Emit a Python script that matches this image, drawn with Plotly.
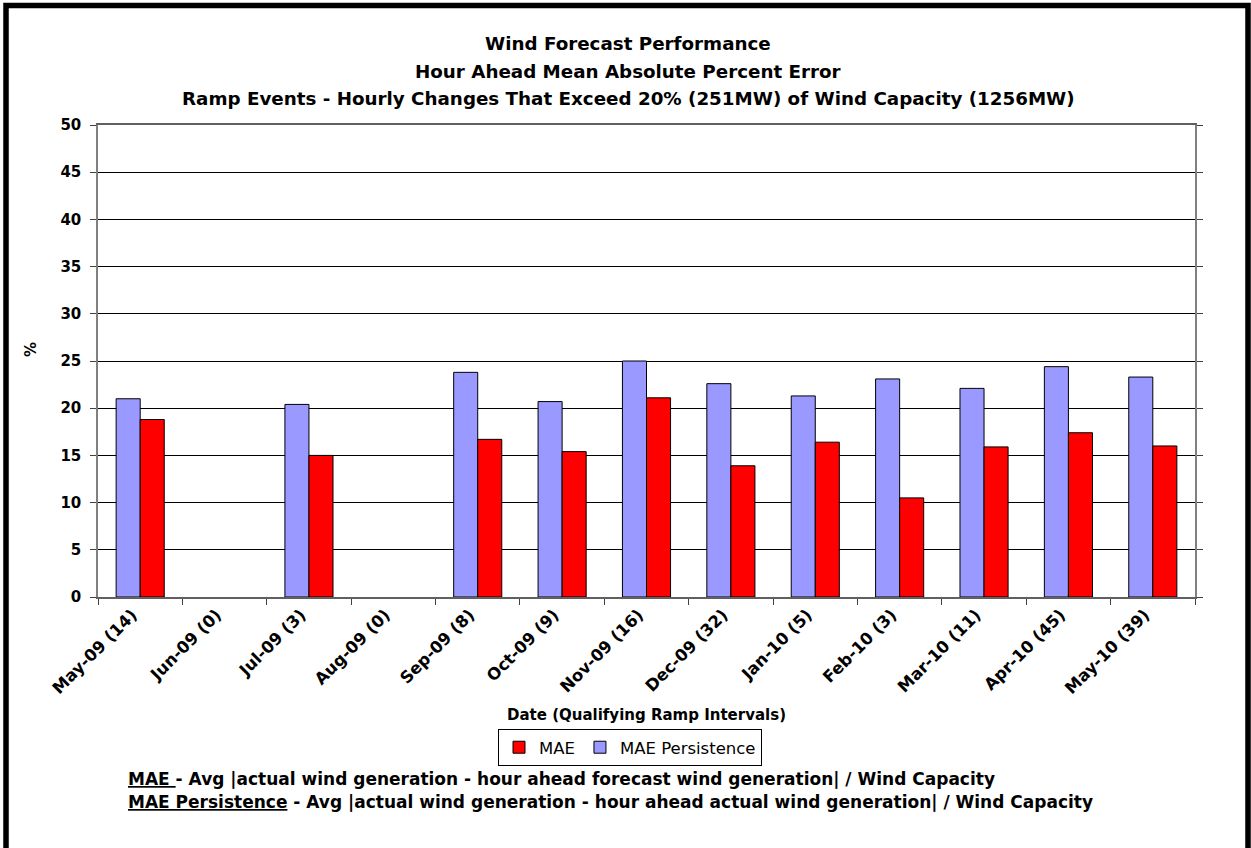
import plotly.graph_objects as go

categories = ["May-09 (14)", "Jun-09 (0)", "Jul-09 (3)", "Aug-09 (0)", "Sep-09 (8)",
              "Oct-09 (9)", "Nov-09 (16)", "Dec-09 (32)", "Jan-10 (5)", "Feb-10 (3)",
              "Mar-10 (11)", "Apr-10 (45)", "May-10 (39)"]
mae_persistence = [21.0, None, 20.4, None, 23.8, 20.7, 25.0, 22.6, 21.3, 23.1, 22.1, 24.4, 23.3]
mae = [18.8, None, 15.0, None, 16.7, 15.4, 21.1, 13.9, 16.4, 10.5, 15.9, 17.4, 16.0]
title_lines = ["Wind Forecast Performance",
               "Hour Ahead Mean Absolute Percent Error",
               "Ramp Events - Hourly Changes That Exceed 20% (251MW) of Wind Capacity (1256MW)"]

FONT = "DejaVu Sans, Liberation Sans, Arial, sans-serif"
W, H = 1251, 848
L, R, T, B = 98, 1195, 125, 597


def px_x(x):
    return (x - L) / (R - L)


def px_y(y):
    return (B - y) / (B - T)


fig = go.Figure()
fig.add_trace(go.Bar(x=categories, y=mae_persistence, name="MAE Persistence",
                     marker=dict(color="#9999FF", line=dict(color="#000000", width=1))))
fig.add_trace(go.Bar(x=categories, y=mae, name="MAE",
                     marker=dict(color="#FF0000", line=dict(color="#000000", width=1))))

annotations = []
for i, (line, yc) in enumerate(zip(title_lines, [44, 71, 98])):
    annotations.append(dict(text="<b>%s</b>" % line, xref="paper", yref="paper",
                            x=px_x(628), y=px_y(yc), xanchor="center", yanchor="middle",
                            showarrow=False, font=dict(size=18.3, family=FONT, color="black")))
annotations += [
    dict(text="<b>%</b>", xref="paper", yref="paper", x=px_x(31), y=px_y(350),
         xanchor="center", yanchor="middle",
         textangle=-90, showarrow=False, font=dict(size=15, family=FONT, color="black")),
    dict(text="<b>Date (Qualifying Ramp Intervals)</b>", xref="paper", yref="paper",
         x=px_x(646), y=px_y(715), xanchor="center", yanchor="middle", showarrow=False,
         font=dict(size=15, family=FONT, color="black")),
    dict(text="<b><u>MAE </u>- Avg |actual wind generation - hour ahead forecast wind generation| / Wind Capacity</b>",
         xref="paper", yref="paper", x=px_x(126), y=px_y(779), xanchor="left", yanchor="middle",
         showarrow=False, font=dict(size=17, family=FONT, color="black")),
    dict(text="<b><u>MAE Persistence</u> - Avg |actual wind generation - hour ahead actual wind generation| / Wind Capacity</b>",
         xref="paper", yref="paper", x=px_x(126), y=px_y(802), xanchor="left", yanchor="middle",
         showarrow=False, font=dict(size=17, family=FONT, color="black")),
]

fig.update_layout(
    width=W, height=H,
    margin=dict(l=L, r=W - R, t=T, b=H - B),
    paper_bgcolor="white", plot_bgcolor="white",
    barmode="group", bargap=0.43, bargroupgap=0,
    font=dict(family=FONT, color="black"),
    showlegend=True,
    legend=dict(
        orientation="h", traceorder="reversed",
        x=px_x(630), xanchor="center", y=px_y(729), yanchor="top",
        bordercolor="black", borderwidth=1, bgcolor="white",
        font=dict(size=16.5, family=FONT, color="black"),
        itemwidth=30,
    ),
    xaxis=dict(
        showgrid=False, showline=True, linecolor="#606060", linewidth=1.5,
        mirror=True, ticks="outside", ticklen=6, tickcolor="#404040",
        tickson="boundaries", tickangle=-45, ticklabelshift=-8,
        tickfont=dict(size=16.5, family=FONT, color="black", weight="bold"),
    ),
    yaxis=dict(
        range=[0, 50], dtick=5, tick0=0,
        showgrid=True, gridcolor="black", gridwidth=1,
        showline=True, linecolor="#808080", linewidth=1.5,
        mirror="ticks", ticks="outside", ticklen=6, tickcolor="#404040",
        ticklabelstandoff=6, zeroline=False,
        tickfont=dict(size=15, family=FONT, color="black", weight="bold"),
    ),
    shapes=[dict(type="rect", xref="paper", yref="paper",
                 x0=px_x(6), x1=px_x(1248), y0=px_y(5.5), y1=px_y(870),
                 line=dict(color="black", width=5.5), fillcolor="rgba(0,0,0,0)", layer="above")],
    annotations=annotations,
)

fig.write_html("out.html", config={"displayModeBar": False},
               post_script="document.body.style.margin='0';document.body.style.overflow='hidden';")
